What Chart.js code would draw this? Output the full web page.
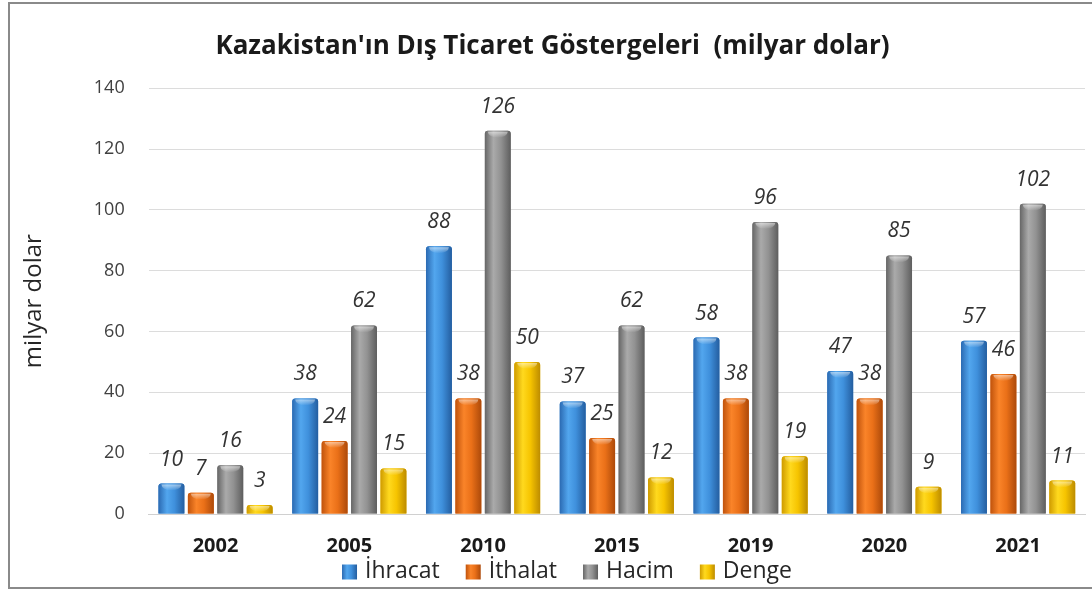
<!DOCTYPE html>
<html>
<head>
<meta charset="utf-8">
<script src="https://cdn.jsdelivr.net/npm/chart.js@4.4.1/dist/chart.umd.min.js"></script>
<style>
  html, body { margin: 0; padding: 0; background: #fff; }
  #wrap { width: 1092px; height: 592px; position: relative; }
</style>
</head>
<body>
<div id="wrap"><canvas id="tradeChart" width="1092" height="592"></canvas></div>
<script>
const years = ['2002', '2005', '2010', '2015', '2019', '2020', '2021'];
const ihracat = [10, 38, 88, 37, 58, 47, 57];
const ithalat = [7, 24, 38, 25, 38, 38, 46];
const hacim = [16, 62, 126, 62, 96, 85, 102];
const denge = [3, 15, 50, 12, 19, 9, 11];
const yTicks = [0, 20, 40, 60, 80, 100, 120, 140];

Chart.defaults.font.family = "'Open Sans', Lato, sans-serif";
Chart.defaults.color = '#404040';

// horizontal "cylinder" shading per series: edge, light, mid, edge
const barShades = [
    ['#2b6ab2', '#52a6ee', '#3f90dc', '#245ea0'],
    ['#c0530c', '#fa8429', '#ea7018', '#ad4a0a'],
    ['#666666', '#aaaaaa', '#929292', '#5e5e5e'],
    ['#cf9b00', '#ffd91e', '#f6c400', '#bd8c00']
];

function shadeFill(ctx, x0, w, s) {
    const g = ctx.createLinearGradient(x0, 0, x0 + w, 0);
    g.addColorStop(0, s[0]);
    g.addColorStop(0.33, s[1]);
    g.addColorStop(0.62, s[2]);
    g.addColorStop(1, s[3]);
    return g;
}

const frameAndShading = {
    id: 'frameAndShading',
    beforeDraw(chart) {
        const ctx = chart.ctx;
        ctx.save();
        ctx.fillStyle = '#ffffff';
        ctx.fillRect(0, 0, chart.width, chart.height);
        ctx.strokeStyle = '#8a8a8a';
        ctx.lineWidth = 2;
        ctx.beginPath();
        ctx.moveTo(1092, 3);
        ctx.lineTo(9, 3);
        ctx.lineTo(9, 588);
        ctx.lineTo(1092, 588);
        ctx.stroke();
        ctx.restore();
    },
    afterDatasetsDraw(chart) {
        const ctx = chart.ctx;
        ctx.save();
        chart.data.datasets.forEach(function(ds, i) {
            const meta = chart.getDatasetMeta(i);
            const s = barShades[i];
            meta.data.forEach(function(bar, j) {
                const x0 = bar.x - bar.width / 2;
                const h = bar.base - bar.y;
                ctx.fillStyle = shadeFill(ctx, x0, bar.width, s);
                ctx.beginPath();
                ctx.roundRect(x0, bar.y, bar.width, h, [3, 3, 0, 0]);
                ctx.fill();
                // light cap on top of each bar
                const cap = ctx.createLinearGradient(0, bar.y, 0, bar.y + 7);
                cap.addColorStop(0, 'rgba(255,255,255,0.6)');
                cap.addColorStop(1, 'rgba(255,255,255,0)');
                ctx.fillStyle = cap;
                ctx.beginPath();
                ctx.ellipse(bar.x, bar.y + 1, bar.width / 2 - 3, Math.min(6, h), 0, 0, Math.PI);
                ctx.fill();
                // value label
                ctx.font = "italic 21px 'Open Sans', Lato, sans-serif";
                ctx.fillStyle = '#333333';
                ctx.textAlign = 'center';
                ctx.textBaseline = 'middle';
                ctx.fillText(String(ds.data[j]), bar.x, bar.y - 24);
            });
        });
        ctx.restore();
    },
    afterDraw(chart) {
        // legend row under the axis labels
        const ctx = chart.ctx;
        const box = 15, gap = 8, spacing = 26, y = 571;
        ctx.save();
        ctx.font = "23px 'Open Sans', Lato, sans-serif";
        ctx.textBaseline = 'middle';
        ctx.textAlign = 'left';
        const items = chart.data.datasets.map(function(ds) { return ds.label; });
        const widths = items.map(function(t) { return box + gap + ctx.measureText(t).width; });
        const total = widths.reduce(function(a, b) { return a + b; }, 0) + spacing * (items.length - 1);
        let x = chart.width / 2 + 21 - total / 2;
        items.forEach(function(t, i) {
            ctx.fillStyle = shadeFill(ctx, x, box, barShades[i]);
            ctx.fillRect(x, y - box / 2 + 1, box, box);
            ctx.fillStyle = '#262626';
            ctx.fillText(t, x + box + gap, y);
            x += widths[i] + spacing;
        });
        ctx.restore();
    }
};

const tradeChart = new Chart(document.getElementById('tradeChart'), {
    type: 'bar',
    data: {
        labels: years,
        datasets: [
            { label: 'İhracat', data: ihracat, backgroundColor: '#3a86d0' },
            { label: 'İthalat', data: ithalat, backgroundColor: '#e46c17' },
            { label: 'Hacim', data: hacim, backgroundColor: '#8f8f8f' },
            { label: 'Denge', data: denge, backgroundColor: '#f0bc00' }
        ]
    },
    options: {
        responsive: false,
        animation: false,
        layout: { padding: { left: 20, right: 7, top: 10, bottom: 14 } },
        datasets: {
            bar: {
                categoryPercentage: 0.88,
                barPercentage: 0.88,
                borderRadius: { topLeft: 3, topRight: 3 },
                borderSkipped: 'bottom'
            }
        },
        plugins: {
            title: {
                display: true,
                text: "Kazakistan'ın Dış Ticaret Göstergeleri  (milyar dolar)",
                color: '#1a1a1a',
                font: { size: 26, weight: 'bold' },
                padding: { top: 21, bottom: 26 }
            },
            legend: { display: false },
            tooltip: { enabled: false }
        },
        scales: {
            x: {
                grid: { display: false, drawTicks: false },
                border: { color: '#d0d0d0' },
                ticks: {
                    color: '#1a1a1a',
                    font: { size: 20, weight: 'bold' },
                    padding: 20
                }
            },
            y: {
                min: 0,
                max: 140,
                afterBuildTicks: function(axis) {
                    axis.ticks = yTicks.map(function(v) { return { value: v }; });
                },
                grid: { color: '#dcdcdc', drawTicks: false },
                border: { display: false },
                ticks: {
                    color: '#404040',
                    font: { size: 18 },
                    padding: 24
                },
                title: {
                    display: true,
                    text: 'milyar dolar',
                    color: '#262626',
                    font: { size: 24 },
                    padding: { top: 0, bottom: 21 }
                }
            }
        }
    },
    plugins: [frameAndShading]
});
</script>
</body>
</html>
